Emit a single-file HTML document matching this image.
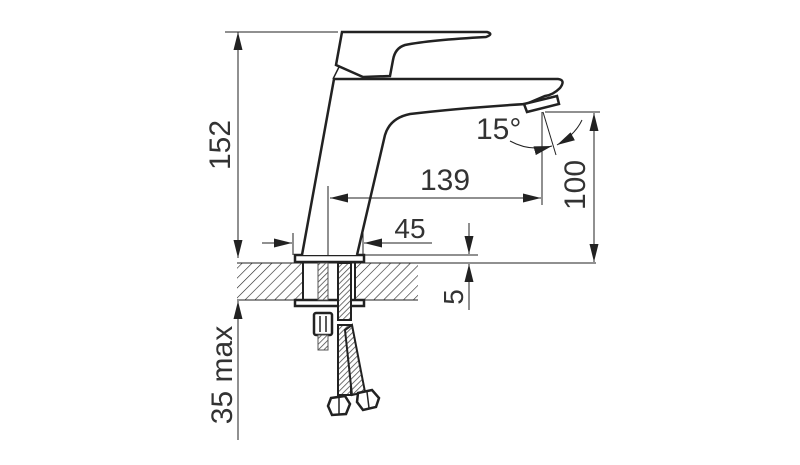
<!DOCTYPE html>
<html><head><meta charset="utf-8"><style>
html,body{margin:0;padding:0;background:#fff;width:800px;height:465px;overflow:hidden}
svg{display:block}
text{font-family:"Liberation Sans",sans-serif;fill:#333}
</style></head><body>
<svg width="800" height="465" viewBox="0 0 800 465" xmlns="http://www.w3.org/2000/svg">
<defs>
<pattern id="h" width="7" height="7" patternUnits="userSpaceOnUse" patternTransform="rotate(45)">
<line x1="0" y1="0" x2="0" y2="7" stroke="#222" stroke-width="1.2"/></pattern>
<pattern id="br" width="4" height="4" patternUnits="userSpaceOnUse" patternTransform="rotate(45)">
<rect width="4" height="4" fill="#fff"/><line x1="0" y1="0" x2="0" y2="4" stroke="#444" stroke-width="1.5"/></pattern>
<marker id="b" viewBox="0 0 20 10" refX="20" refY="5" markerWidth="18" markerHeight="9" markerUnits="userSpaceOnUse" orient="auto-start-reverse">
<path d="M0,0 L20,5 L0,10z" fill="#222"/></marker>
</defs>
<g stroke="#222" fill="none">
<rect x="237" y="263" width="181" height="37" fill="url(#h)" stroke="none"/>
<rect x="303" y="263" width="52" height="37" fill="#fff" stroke="none"/>
<line x1="237" y1="263" x2="596" y2="263" stroke-width="1"/>
<line x1="237" y1="300" x2="418" y2="300" stroke-width="1"/>
<line x1="303" y1="263" x2="303" y2="300" stroke-width="2"/>
<line x1="355" y1="263" x2="355" y2="300" stroke-width="2"/>
<rect x="295" y="255" width="69" height="7" stroke-width="2.5" fill="#fff"/>
<rect x="295" y="300" width="69" height="6" stroke-width="2.5" fill="#fff"/>
<path d="M302,255 L334,79 L558,79 Q566,80 560,88 Q553,95 545,96 L526,104 Q460,108 410,114 Q390,118 385,135 L357,255" stroke-width="2.5" fill="#fff"/>
<path d="M524,104 L557,96 L559,104 L527,112 Z" stroke-width="2.5" fill="#fff"/>
<path d="M342,32 L487,32 Q494,34 486,37 Q430,40 405,45 Q395,48 393,60 L390,76 L363,77 L336,65 Z" stroke-width="2.5" fill="#fff"/>
<line x1="339" y1="67" x2="333" y2="79" stroke-width="1.5"/>
<rect x="318" y="263" width="10" height="37" fill="url(#br)" stroke="#555" stroke-width="1"/>
<rect x="314" y="313" width="18" height="22" rx="2" stroke-width="2.5" fill="#fff"/>
<line x1="320" y1="316" x2="320" y2="332" stroke-width="1.5"/>
<line x1="326" y1="316" x2="326" y2="332" stroke-width="1.5"/>
<rect x="318" y="335" width="10" height="15" fill="url(#br)" stroke="#555" stroke-width="1"/>
<rect x="338" y="263" width="13" height="57" fill="url(#br)" stroke-width="2"/>
<rect x="338" y="325" width="13" height="70" fill="url(#br)" stroke-width="2"/>
<path d="M352,325 L365,392 L352,395 L345,330 Z" fill="url(#br)" stroke-width="2"/>
<path d="M331,398 L345,396 L350,404 L346,414 L332,415 L328,406 Z" stroke-width="2.5" fill="#fff"/>
<line x1="339" y1="398" x2="339" y2="414" stroke-width="1.5"/>
<path d="M358,393 L372,390 L379,398 L376,407 L363,410 L357,402 Z" stroke-width="2.5" fill="#fff"/>
<line x1="367" y1="392" x2="369" y2="408" stroke-width="1.5"/>
<g stroke-width="1">
<line x1="225" y1="32" x2="338" y2="32"/>
<line x1="238" y1="32" x2="238" y2="258" marker-start="url(#b)" marker-end="url(#b)"/>
<line x1="238" y1="440" x2="238" y2="301" marker-end="url(#b)"/>
<line x1="328" y1="186" x2="328" y2="255"/>
<line x1="542" y1="112" x2="542" y2="205"/>
<line x1="330" y1="198" x2="541" y2="198" marker-start="url(#b)" marker-end="url(#b)"/>
<line x1="543" y1="112" x2="556" y2="155"/>
<line x1="545" y1="112" x2="600" y2="112"/>
<line x1="594" y1="113" x2="594" y2="262" marker-start="url(#b)" marker-end="url(#b)"/>
<line x1="293" y1="233" x2="293" y2="255"/>
<line x1="363" y1="233" x2="363" y2="255"/>
<line x1="262" y1="243" x2="292" y2="243" marker-end="url(#b)"/>
<line x1="432" y1="243" x2="364" y2="243" marker-end="url(#b)"/>
<line x1="364" y1="255" x2="478" y2="255"/>
<line x1="469" y1="223" x2="469" y2="254" marker-end="url(#b)"/>
<line x1="469" y1="310" x2="469" y2="264" marker-end="url(#b)"/>
<path d="M510,141 Q530,152 552,146" marker-end="url(#b)"/>
<path d="M582,120 Q575,135 557,145" marker-end="url(#b)"/>
</g>
</g>
<text x="476" y="139" font-size="30">15°</text>
<text x="445" y="190" font-size="30" text-anchor="middle">139</text>
<text x="410" y="238" font-size="28" text-anchor="middle">45</text>
<text transform="translate(585,185) rotate(-90)" font-size="30" text-anchor="middle">100</text>
<text transform="translate(230,145) rotate(-90)" font-size="30" text-anchor="middle">152</text>
<text transform="translate(463,297) rotate(-90)" font-size="28" text-anchor="middle">5</text>
<text transform="translate(232,375) rotate(-90)" font-size="30" text-anchor="middle">35 max</text>
</svg>
</body></html>
